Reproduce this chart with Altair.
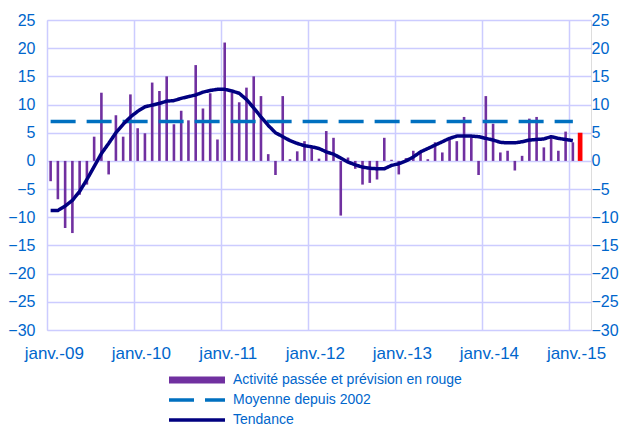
import altair as alt
import pandas as pd

FONT = "Liberation Sans"
BLUE = "#0066CC"

month_names = ["janv.", "févr.", "mars", "avr.", "mai", "juin",
               "juil.", "août", "sept.", "oct.", "nov.", "déc."]
years = ["09", "10", "11", "12", "13", "14", "15"]
months = [f"{m}-{y}" for y in years for m in month_names][:75]  # janv.-09 .. mars-15
jan_labels = [f"janv.-{y}" for y in years]

# Activité passée (janv.-09 .. janv.-15)
activite = [
    -3.6, -6.8, -11.9, -12.8, -6.0, -4.2, 4.3, 12.1, -2.4, 8.1, 4.3, 11.8,
    5.8, 4.9, 13.9, 12.4, 15.0, 6.5, 8.9, 7.2, 17.0, 9.3, 12.0, 3.8,
    21.0, 12.1, 10.4, 13.0, 15.0, 11.5, 1.2, -2.5, 11.5, 0.3, 1.7, 3.5,
    2.3, 0.4, 5.3, 4.1, -9.7, 0.6, -1.4, -4.2, -3.9, -3.3, 4.1, 0.2,
    -2.4, 0.5, 1.8, 1.4, 0.3, 3.3, 1.5, 4.0, 3.5, 7.8, 4.2, -2.5,
    11.5, 6.6, 1.5, 1.8, -1.7, 0.9, 7.5, 7.8, 2.4, 4.6, 1.8, 5.2,
    3.3,
]
# Prévision (en rouge)
prevision_mois = ["févr.-15"]
prevision = [5.0]

# Tendance (janv.-09 .. janv.-15)
tendance = [
    -8.8, -8.8, -8.0, -7.0, -5.4, -3.3, -1.0, 1.3, 3.1, 5.0, 6.5, 7.8,
    8.8, 9.6, 9.9, 10.2, 10.6, 10.7, 11.1, 11.4, 11.7, 12.2, 12.5, 12.7,
    12.7, 12.4, 12.0, 10.9, 9.4, 7.8, 6.3, 5.0, 4.3, 3.6, 3.1, 2.7,
    2.5, 2.2, 1.6, 1.2, 0.5, -0.2, -0.7, -1.1, -1.3, -1.4, -1.4, -0.8,
    -0.5, 0.0, 0.7, 1.6, 2.2, 2.8, 3.4, 4.0, 4.4, 4.4, 4.4, 4.3,
    4.0, 3.7, 3.3, 3.2, 3.2, 3.4, 3.7, 3.8, 3.9, 4.3, 4.0, 3.8,
    3.6,
]
# Moyenne depuis 2002
moyenne_mois = ["janv.-09", "janv.-15"]
moyenne = [7.0, 7.0]

SERIES = ["Activité passée et prévision en rouge", "Moyenne depuis 2002", "Tendance"]
COLORS = ["#7030A0", "#0070C0", "#000080"]

bars_df = pd.DataFrame({"m": months[:len(activite)], "v": activite})
red_df = pd.DataFrame({"m": prevision_mois, "v": prevision})
lines_df = pd.concat([
    pd.DataFrame({"m": moyenne_mois, "v": moyenne, "serie": SERIES[1]}),
    pd.DataFrame({"m": months[:len(tendance)], "v": tendance, "serie": SERIES[2]}),
], ignore_index=True)

YDOM = [-30, 25]
YVALS = list(range(-30, 30, 5))

x_enc = alt.X(
    "m:O",
    scale=alt.Scale(domain=months, paddingInner=0, paddingOuter=0),
    axis=alt.Axis(
        values=jan_labels, title=None, grid=True, gridColor="#CCCCFF", gridWidth=1.5,
        bandPosition=0, labelOffset=3.63, labelAngle=0, domain=False, ticks=False,
        labelColor=BLUE, labelFont=FONT, labelFontSize=17, labelPadding=15,
    ),
)

bars = alt.Chart(bars_df).mark_bar(size=2.6, color="#7030A0").encode(
    x=x_enc,
    y=alt.Y("v:Q", scale=alt.Scale(domain=YDOM, nice=False),
            axis=alt.Axis(values=YVALS, title=None, grid=True, gridColor="#CCCCFF",
                          gridWidth=1.5, domain=False, ticks=False, tickSize=0,
                          labelColor=BLUE, labelFont=FONT, labelFontSize=16,
                          labelPadding=12)),
)

red = alt.Chart(red_df).mark_bar(size=4.7, color="#FF0000").encode(
    x=x_enc,
    y=alt.Y("v:Q", scale=alt.Scale(domain=YDOM, nice=False), axis=None),
)

leg = alt.Legend(
    title=None, orient="none", legendX=115, legendY=352, direction="vertical",
    symbolType="M-9.333,0H9.333", symbolSize=36, labelFontSize=14, labelColor=BLUE,
    labelFont=FONT, labelOffset=29, rowPadding=4, padding=0, symbolOffset=28,
    labelLimit=400, clipHeight=16,
)

lines = alt.Chart(lines_df).mark_line(strokeCap="butt", strokeJoin="round").encode(
    x=x_enc,
    y=alt.Y("v:Q", scale=alt.Scale(domain=YDOM, nice=False),
            axis=alt.Axis(values=YVALS, title=None, orient="right", grid=False,
                          domain=False, ticks=False, tickSize=0, labelColor=BLUE,
                          labelFont=FONT, labelFontSize=16, labelPadding=0)),
    color=alt.Color("serie:N", scale=alt.Scale(domain=SERIES, range=COLORS), legend=leg),
    strokeDash=alt.StrokeDash("serie:N", scale=alt.Scale(domain=SERIES, range=[[1, 0], [25, 11], [1, 0]]), legend=leg),
    strokeWidth=alt.StrokeWidth("serie:N", scale=alt.Scale(type="ordinal", domain=SERIES, range=[7, 3.5, 3.5]), legend=leg),
)

chart = alt.layer(bars, red, lines).resolve_scale(y="independent").properties(
    width=544, height=310,
    autosize=alt.AutoSizeParams(type="none"),
    padding={"left": 39, "top": 12, "right": 28, "bottom": 95},
).configure_view(stroke="#9999EE", strokeWidth=2).configure(background="white")

chart.save("out.html", embed_options={"renderer": "svg", "actions": False})
